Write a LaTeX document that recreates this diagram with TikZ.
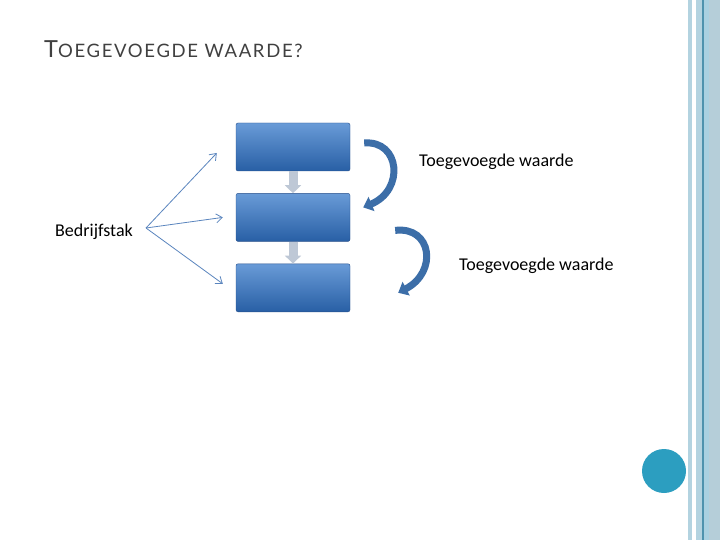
\documentclass[tikz,border=0pt]{standalone}
\usepackage{fontspec}
\setmainfont{Carlito}
\newfontfamily\titlefont[LetterSpace=9]{Lato}
\usepackage{xcolor}
\usepackage{tikz}
\usetikzlibrary{arrows.meta,shapes,positioning}
\definecolor{boxtop}{RGB}{105,155,215}
\definecolor{boxbot}{RGB}{40,95,165}
\definecolor{boxline}{RGB}{40,80,140}
\definecolor{bendblue}{RGB}{60,110,168}
\definecolor{fanblue}{RGB}{90,133,190}
\definecolor{stepgray}{RGB}{190,200,214}
\definecolor{stripe}{RGB}{179,211,224}
\definecolor{stripedark}{RGB}{78,147,174}
\definecolor{stripemid}{RGB}{169,209,225}
\definecolor{stripeside}{RGB}{181,206,217}
\definecolor{dotblue}{RGB}{44,158,192}
\definecolor{titlegray}{RGB}{64,64,64}

\begin{document}
\begin{tikzpicture}[x=1pt, y=-1pt,
    stepbox/.style={rectangle, draw=boxline, top color=boxtop, bottom color=boxbot, rounded corners=2pt, minimum width=114pt, minimum height=48pt},
    caption/.style={font=\fontsize{18}{20}\selectfont, text=black, inner sep=0pt},
    fanarrow/.style={-{Straight Barb[length=6pt,width=9pt]}, draw=fanblue, line width=0.8pt},
    valuearrow/.style={-{Triangle[length=9pt,width=15pt]}, draw=bendblue, line width=7pt},
    steparrow/.style={-{Triangle[length=8pt,width=16pt]}, draw=stepgray, line width=9pt}
]
    \useasboundingbox (0,0) rectangle (720,540);
    \fill[white] (0,0) rectangle (720,540);

    % right border
    \fill[stripe] (688,0) rectangle (692,540);
    \fill[stripe] (696,0) rectangle (702,540);
    \fill[stripedark] (702,0) rectangle (703.5,540);
    \fill[stripemid] (703.5,0) rectangle (709,540);
    \fill[stripeside] (709,0) rectangle (720,540);
    \node[circle, fill=dotblue, minimum size=44pt, inner sep=0pt] (dot) at (664,471) {};

    \node[anchor=base west, text=titlegray, inner sep=0pt] (title) at (44,58)
        {\titlefont\fontsize{23.5}{25}\selectfont T\fontsize{18.5}{20}\selectfont OEGEVOEGDE WAARDE?};

    \node[stepbox] (b1) at (293,147) {};
    \node[stepbox, below=22pt of b1] (b2) {};
    \node[stepbox, below=22pt of b2] (b3) {};

    \draw[steparrow] (b1.south) -- (b2.north);
    \draw[steparrow] (b2.south) -- (b3.north);

    \node[caption, anchor=west] (src) at (55,232) {Bedrijfstak};
    \coordinate (fork) at (146,228);
    \draw[fanarrow] (fork) -- ([xshift=-19pt,yshift=-6pt]b1.west);
    \draw[fanarrow] (fork) -- ([xshift=-13pt]b2.west);
    \draw[fanarrow] (fork) -- ([xshift=-13pt,yshift=4pt]b3.west);

    \draw[valuearrow] ([xshift=14pt,yshift=4pt]b1.east) .. controls (400,140) and (405,190) .. ([xshift=13pt,yshift=10pt]b2.east);
    \draw[valuearrow] ([xshift=45pt,yshift=-13pt]b2.east) .. controls (432,226) and (438,272) .. ([xshift=48pt,yshift=-5pt]b3.east);

    \node[caption, anchor=west] (gain1) at (419,162) {Toegevoegde waarde};
    \node[caption, anchor=west] (gain2) at (459,266) {Toegevoegde waarde};
\end{tikzpicture}
\end{document}
